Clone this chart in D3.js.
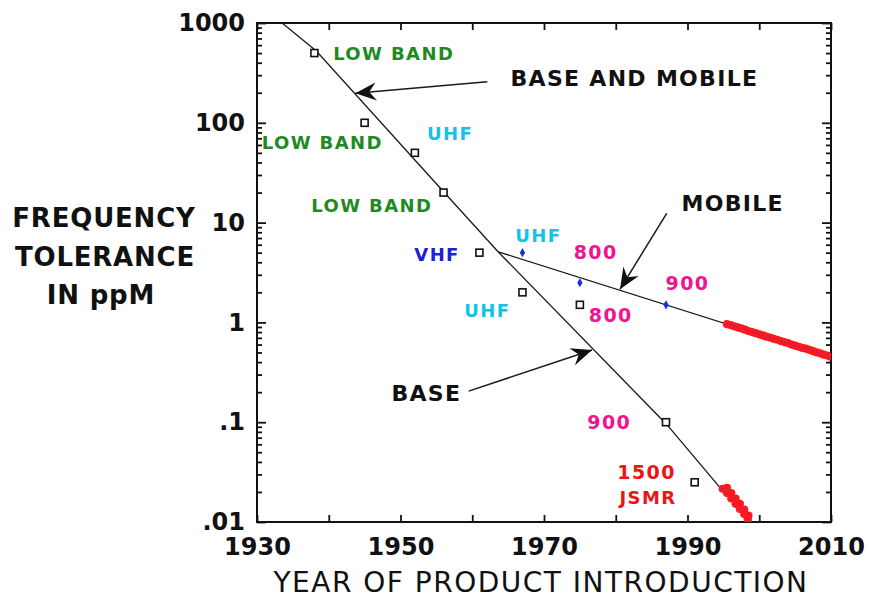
<!DOCTYPE html>
<html>
<head>
<meta charset="utf-8">
<script src="https://cdn.jsdelivr.net/npm/d3@7"></script>
<style>
  body { margin: 0; background: #fff; }
  svg { display: block; }
  text { font-family: "DejaVu Sans", "Liberation Sans", sans-serif; }
</style>
</head>
<body>
<svg id="chart" width="869" height="598"></svg>
<script>
// ---- axis ticks ----
const yearTicks  = [1930, 1940, 1950, 1960, 1970, 1980, 1990, 2000, 2010];
const yearLabels = ["1930", "", "1950", "", "1970", "", "1990", "", "2010"];
const ppmDecades = [0.01, 0.1, 1, 10, 100, 1000];
const ppmLabels  = [".01", ".1", "1", "10", "100", "1000"];

// ---- trend lines ----
const baseLineYears   = [1933.5, 1938.3, 1956.1, 1963.6, 1987.1, 1994.8];
const baseLinePpm     = [1000, 520, 20, 5.1, 0.095, 0.021];
const mobileLineYears = [1963.6, 2010];
const mobileLinePpm   = [5.1, 0.45];

// ---- product introductions ----
const productYears = [1938, 1945, 1952, 1956, 1961, 1967, 1975, 1987, 1991];
const productPpm   = [500, 100, 50, 20, 5, 2, 1.5, 0.1, 0.025];

const mobileYears = [1967, 1975, 1987];
const mobilePpm   = [5, 2.5, 1.5];

// recent mobile units
const recentMobileYears = [1995.5, 1996, 1996.5, 1997, 1997.5, 1998, 1998.5, 1999, 1999.5, 2000,
                           2000.5, 2001, 2001.5, 2002, 2002.5, 2003, 2003.5, 2004, 2004.5, 2005,
                           2005.5, 2006, 2006.5, 2007, 2007.5, 2008, 2008.5, 2009, 2009.5, 2010];
const recentMobilePpm   = [0.96, 0.94, 0.915, 0.89, 0.87, 0.845, 0.82, 0.80, 0.78, 0.76,
                           0.74, 0.72, 0.705, 0.685, 0.67, 0.65, 0.635, 0.62, 0.60, 0.585,
                           0.57, 0.555, 0.545, 0.53, 0.515, 0.50, 0.49, 0.475, 0.465, 0.45];

// recent base units
const recentBaseYears = [1994.9, 1995.5, 1996.1, 1996.7, 1997.3, 1997.9, 1998.4,
                         1995.5, 1996.1, 1996.7, 1997.3, 1997.9, 1998.5];
const recentBasePpm   = [0.0215, 0.0195, 0.0172, 0.0152, 0.0135, 0.012, 0.0106,
                         0.022, 0.0195, 0.0172, 0.0152, 0.0133, 0.0116];

// ---- band annotations (year, ppm anchors) ----
const bandLabels = [
  { text: "LOW BAND", year: 1949.05, ppm: 495,   kind: "low" },
  { text: "LOW BAND", year: 1939.1,  ppm: 63,    kind: "low" },
  { text: "LOW BAND", year: 1946.0,  ppm: 15,    kind: "low" },
  { text: "UHF",      year: 1956.9,  ppm: 77.6,  kind: "uhf" },
  { text: "VHF",      year: 1955.1,  ppm: 4.8,   kind: "vhf" },
  { text: "UHF",      year: 1969.2,  ppm: 7.5,   kind: "uhf" },
  { text: "UHF",      year: 1962.1,  ppm: 1.33,  kind: "uhf" },
  { text: "800",      year: 1977.2,  ppm: 5.0,   kind: "cell" },
  { text: "800",      year: 1979.3,  ppm: 1.18,  kind: "cell" },
  { text: "900",      year: 1990.0,  ppm: 2.45,  kind: "cell" },
  { text: "900",      year: 1979.1,  ppm: 0.1,   kind: "cell" },
  { text: "1500",     year: 1984.3,  ppm: 0.0316, kind: "jsmr" },
  { text: "JSMR",     year: 1984.5,  ppm: 0.0177, kind: "jsmr" }
];

// ---- callouts with arrows ----
const callouts = [
  { text: "BASE AND MOBILE", year: 1982.6, ppm: 282,  from: [1962.1, 257.6], to: [1943.7, 197.6] },
  { text: "MOBILE",          year: 1996.3, ppm: 15.8, from: [1987.1, 12.4],  to: [1980.6, 2.15] },
  { text: "BASE",            year: 1953.6, ppm: 0.195, from: [1959.5, 0.205], to: [1976.7, 0.528] }
];

const bandColor = { low: "#1f8a24", uhf: "#12c4e4", vhf: "#1a22d4", cell: "#f01490", jsmr: "#ee1515" };

// ---- layout ----
const svg = d3.select("#chart");
const plotL = 257, plotR = 831, plotT = 23, plotB = 522;

const x = d3.scaleLinear().domain([1930, 2010]).range([plotL, plotR]);
const y = d3.scaleLog().domain([0.01, 1000]).range([plotB, plotT]);

const isMajor = v => Math.abs(Math.log10(v) - Math.round(Math.log10(v))) < 1e-6;
const ppmTicks = y.ticks();

svg.append("defs").append("clipPath").attr("id", "plot")
  .append("rect").attr("x", plotL).attr("y", plotT)
  .attr("width", plotR - plotL).attr("height", plotB - plotT);

// ---- axes ----
const fmtYear = d => yearLabels[yearTicks.indexOf(d)] || "";
const fmtPpm  = d => { const i = ppmDecades.findIndex(v => Math.abs(v - d) / v < 1e-6); return i >= 0 ? ppmLabels[i] : ""; };

const gBottom = svg.append("g").attr("transform", `translate(0,${plotB})`)
  .call(d3.axisBottom(x).tickValues(yearTicks).tickSizeInner(-7).tickSizeOuter(0)
        .tickPadding(16).tickFormat(fmtYear));
const gTop = svg.append("g").attr("transform", `translate(0,${plotT})`)
  .call(d3.axisTop(x).tickValues(yearTicks).tickSizeInner(-7).tickSizeOuter(0).tickFormat(""));
const gLeft = svg.append("g").attr("transform", `translate(${plotL},0)`)
  .call(d3.axisLeft(y).tickValues(ppmTicks).tickSizeInner(-5).tickSizeOuter(0)
        .tickPadding(12).tickFormat(fmtPpm));
const gRight = svg.append("g").attr("transform", `translate(${plotR},0)`)
  .call(d3.axisRight(y).tickValues(ppmTicks).tickSizeInner(-5).tickSizeOuter(0).tickFormat(""));

gLeft.selectAll(".tick line").attr("x2", d => isMajor(d) ? 9 : 5);
gRight.selectAll(".tick line").attr("x2", d => isMajor(d) ? -9 : -5);

[gBottom, gTop, gLeft, gRight].forEach(g => {
  g.select(".domain").remove();
  g.selectAll(".tick line").attr("stroke", "#111").attr("stroke-width", 1.8);
  g.selectAll(".tick text")
    .attr("fill", "#111")
    .style("font-family", "'DejaVu Sans', sans-serif")
    .style("font-weight", "bold")
    .style("font-size", "24px");
});

svg.append("rect")
  .attr("x", plotL).attr("y", plotT)
  .attr("width", plotR - plotL).attr("height", plotB - plotT)
  .attr("fill", "none").attr("stroke", "#111").attr("stroke-width", 2);

// ---- trend lines ----
const line = d3.line().x(d => x(d[0])).y(d => y(d[1]));
const plot = svg.append("g").attr("clip-path", "url(#plot)");

plot.append("path")
  .datum(baseLineYears.map((yr, i) => [yr, baseLinePpm[i]]))
  .attr("d", line).attr("fill", "none").attr("stroke", "#1a1a1a").attr("stroke-width", 1.3);
plot.append("path")
  .datum(mobileLineYears.map((yr, i) => [yr, mobileLinePpm[i]]))
  .attr("d", line).attr("fill", "none").attr("stroke", "#1a1a1a").attr("stroke-width", 1.3);

// ---- product squares ----
svg.append("g").selectAll("rect")
  .data(productYears.map((yr, i) => [yr, productPpm[i]]))
  .join("rect")
  .attr("x", d => x(d[0]) - 3.5).attr("y", d => y(d[1]) - 3.5)
  .attr("width", 7).attr("height", 7)
  .attr("fill", "#fff").attr("stroke", "#111").attr("stroke-width", 1.6);

// ---- mobile markers ----
svg.append("g").selectAll("path")
  .data(mobileYears.map((yr, i) => [yr, mobilePpm[i]]))
  .join("path")
  .attr("transform", d => `translate(${x(d[0])},${y(d[1])})`)
  .attr("d", d3.symbol(d3.symbolDiamond, 24))
  .attr("fill", "#1a2ee0");

// ---- recent units ----
const recent = recentMobileYears.map((yr, i) => [yr, recentMobilePpm[i]])
  .concat(recentBaseYears.map((yr, i) => [yr, recentBasePpm[i]]));
const gRecent = svg.append("g").attr("clip-path", "url(#plot)");
gRecent.selectAll("circle.outer").data(recent).join("circle")
  .attr("class", "outer")
  .attr("cx", d => x(d[0])).attr("cy", d => y(d[1])).attr("r", 4.1)
  .attr("fill", "#ff1a1a");
gRecent.selectAll("circle.inner").data(recent).join("circle")
  .attr("class", "inner")
  .attr("cx", d => x(d[0])).attr("cy", d => y(d[1])).attr("r", 0.9)
  .attr("fill", "#a0209c");

// ---- band labels ----
svg.append("g").selectAll("text")
  .data(bandLabels).join("text")
  .attr("x", d => x(d.year)).attr("y", d => y(d.ppm))
  .attr("dy", "0.36em")
  .attr("text-anchor", "middle")
  .attr("fill", d => bandColor[d.kind])
  .style("font-weight", "bold")
  .style("font-size", d => /\d/.test(d.text) ? "19px" : "18px")
  .style("letter-spacing", "1.4px")
  .text(d => d.text);

// ---- callouts ----
const gCall = svg.append("g");
gCall.selectAll("text").data(callouts).join("text")
  .attr("x", d => x(d.year)).attr("y", d => y(d.ppm))
  .attr("dy", "0.36em").attr("text-anchor", "middle")
  .attr("fill", "#111")
  .style("font-weight", "bold").style("font-size", "22px")
  .style("letter-spacing", "1.3px")
  .text(d => d.text);

callouts.forEach(c => {
  const x0 = x(c.from[0]), y0 = y(c.from[1]);
  const x1 = x(c.to[0]),   y1 = y(c.to[1]);
  const ang = Math.atan2(y1 - y0, x1 - x0) * 180 / Math.PI;
  gCall.append("line")
    .attr("x1", x0).attr("y1", y0).attr("x2", x1).attr("y2", y1)
    .attr("stroke", "#1a1a1a").attr("stroke-width", 1.5);
  gCall.append("path")
    .attr("transform", `translate(${x1},${y1}) rotate(${ang})`)
    .attr("d", "M0,0 L-21,-9 L-14,0 L-21,9 Z")
    .attr("fill", "#111");
});

// ---- axis titles ----
const yTitle = svg.append("text")
  .attr("text-anchor", "middle")
  .attr("fill", "#111")
  .style("font-weight", "bold").style("font-size", "26px")
  .style("letter-spacing", "0.8px");
yTitle.append("tspan").attr("x", 104).attr("y", 227).text("FREQUENCY");
yTitle.append("tspan").attr("x", 105).attr("y", 266).text("TOLERANCE");
yTitle.append("tspan").attr("x", 101).attr("y", 304).text("IN ppM");

svg.append("text")
  .attr("x", 541).attr("y", 592)
  .attr("text-anchor", "middle")
  .attr("fill", "#111")
  .style("font-size", "28px")
  .style("letter-spacing", "1.5px")
  .text("YEAR OF PRODUCT INTRODUCTION");
</script>
</body>
</html>
